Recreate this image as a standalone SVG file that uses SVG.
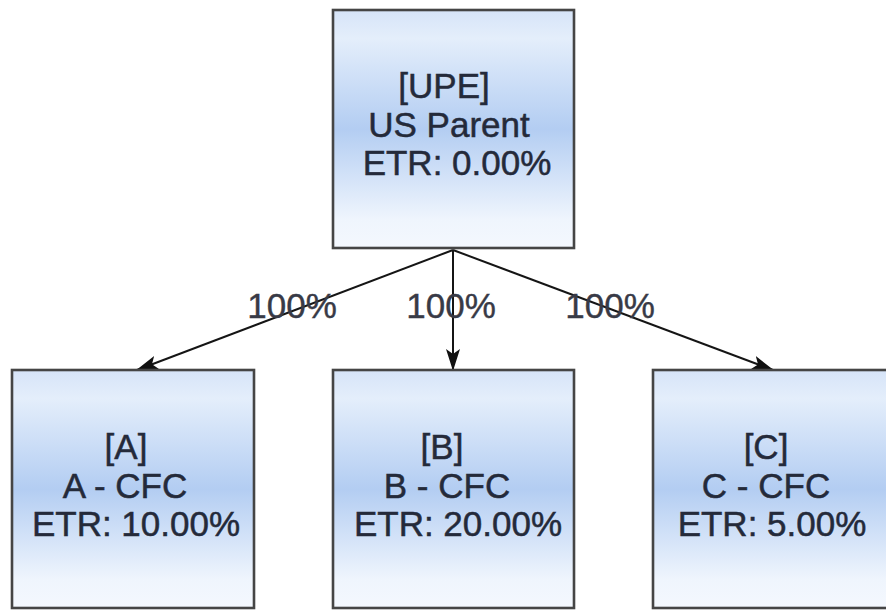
<svg xmlns="http://www.w3.org/2000/svg" width="886" height="610" viewBox="0 0 886 610">
<defs>
<linearGradient id="boxgrad" x1="0" y1="0" x2="0" y2="1">
<stop offset="0" stop-color="#d6e4f8"/>
<stop offset="0.12" stop-color="#e4eefb"/>
<stop offset="0.5" stop-color="#b3cdf2"/>
<stop offset="0.88" stop-color="#eff5fd"/>
<stop offset="1" stop-color="#f4f8fe"/>
</linearGradient>
<marker id="arrow" markerUnits="userSpaceOnUse" markerWidth="22" markerHeight="14" refX="21" refY="7" orient="auto">
<path d="M0,0 L22,7 L0,14 L5,7 Z" fill="#111"/>
</marker>
<style>
.box{fill:url(#boxgrad);stroke:#454545;stroke-width:2.6}
.t{font-family:"Liberation Sans",Arial,sans-serif;font-size:35px;fill:#242a3a;stroke:#242a3a;stroke-width:0.5;text-anchor:middle}
.lbl{font-family:"Liberation Sans",Arial,sans-serif;font-size:35px;fill:#383a46;stroke:#383a46;stroke-width:0.4;text-anchor:middle}
.edge{stroke:#151515;stroke-width:2;fill:none;marker-end:url(#arrow)}
</style>
</defs>
<rect width="886" height="610" fill="#ffffff"/>
<g id="connectors">
<line class="edge" x1="453" y1="250" x2="137" y2="370"/>
<line class="edge" x1="453" y1="250" x2="453" y2="370"/>
<line class="edge" x1="453" y1="250" x2="773" y2="370"/>
<text class="lbl" x="292" y="318">100%</text>
<text class="lbl" x="451" y="318">100%</text>
<text class="lbl" x="610" y="318">100%</text>
</g>
<g id="node-upe">
<rect class="box" x="333" y="10" width="241" height="238"/>
<text class="t" x="444" y="98">[UPE]</text>
<text class="t" x="449" y="137">US Parent</text>
<text class="t" x="457" y="175">ETR: 0.00%</text>
</g>
<g id="node-a">
<rect class="box" x="12" y="370" width="242" height="238"/>
<text class="t" x="126" y="459">[A]</text>
<text class="t" x="125" y="498">A - CFC</text>
<text class="t" x="136" y="536">ETR: 10.00%</text>
</g>
<g id="node-b">
<rect class="box" x="333" y="370" width="241" height="238"/>
<text class="t" x="442" y="459">[B]</text>
<text class="t" x="447" y="498">B - CFC</text>
<text class="t" x="458" y="536">ETR: 20.00%</text>
</g>
<g id="node-c">
<rect class="box" x="653" y="370" width="242" height="238"/>
<text class="t" x="766" y="459">[C]</text>
<text class="t" x="766" y="498">C - CFC</text>
<text class="t" x="772" y="536">ETR: 5.00%</text>
</g>
</svg>
